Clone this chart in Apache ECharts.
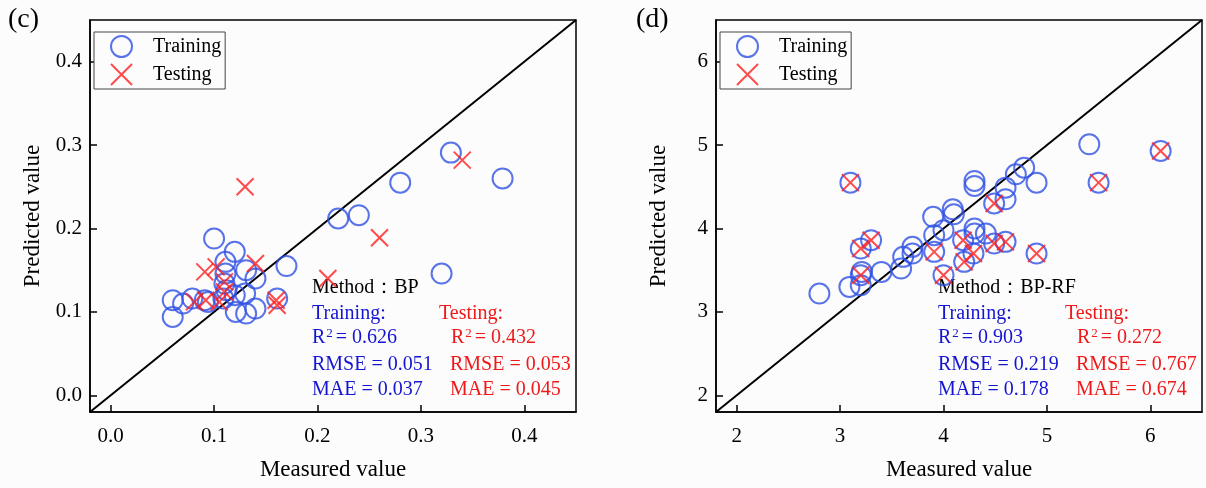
<!DOCTYPE html>
<html>
<head>
<meta charset="utf-8">
<script src="https://cdn.jsdelivr.net/npm/echarts@6/dist/echarts.min.js"></script>
<style>
  html, body { margin: 0; padding: 0; background: #fcfcfc; }
  #chart { width: 1206px; height: 488px; }
</style>
</head>
<body>
<div id="chart"></div>
<script>
// panel (c): BP
const trainC = [
  [0.100, 0.188], [0.120, 0.172], [0.111, 0.160], [0.131, 0.150], [0.111, 0.146],
  [0.140, 0.140], [0.110, 0.134], [0.170, 0.155], [0.060, 0.114], [0.070, 0.110],
  [0.079, 0.116], [0.091, 0.114], [0.094, 0.112], [0.060, 0.094], [0.120, 0.120],
  [0.130, 0.122], [0.121, 0.100], [0.131, 0.098], [0.140, 0.104], [0.161, 0.116],
  [0.109, 0.116], [0.112, 0.126], [0.220, 0.212], [0.240, 0.216], [0.280, 0.255],
  [0.320, 0.146], [0.329, 0.291], [0.379, 0.260]
];
const testC = [
  [0.130, 0.250], [0.091, 0.148], [0.102, 0.154], [0.140, 0.158], [0.110, 0.136],
  [0.110, 0.124], [0.081, 0.112], [0.092, 0.114], [0.105, 0.112], [0.160, 0.114],
  [0.161, 0.108], [0.210, 0.140], [0.260, 0.189], [0.340, 0.282]
];
const rangeC = [-0.02, 0.45];
const ticksC = [0, 0.1, 0.2, 0.3, 0.4];

// panel (d): BP-RF
const trainD = [
  [2.80, 3.22], [3.09, 3.30], [3.20, 3.32], [3.20, 3.44], [3.21, 3.48], [3.10, 4.55],
  [3.20, 3.76], [3.30, 3.86], [3.40, 3.48], [3.59, 3.52], [3.61, 3.66], [3.70, 3.70],
  [3.70, 3.78], [3.90, 4.14], [3.91, 3.92], [3.91, 3.72], [4.00, 3.98], [4.00, 3.44],
  [4.09, 4.23], [4.10, 4.17], [4.19, 3.86], [4.20, 3.60], [4.30, 4.00], [4.30, 3.94],
  [4.29, 3.70], [4.41, 3.94], [4.30, 4.57], [4.30, 4.51], [4.49, 4.30], [4.60, 4.35],
  [4.49, 3.82], [4.60, 3.84], [4.60, 4.49], [4.70, 4.65], [4.78, 4.73], [4.90, 4.55],
  [4.90, 3.70], [5.41, 5.01], [5.50, 4.55], [6.10, 4.93]
];
const testD = [
  [3.10, 4.55], [3.20, 3.44], [3.20, 3.76], [3.30, 3.86], [3.91, 3.72], [4.00, 3.44],
  [4.19, 3.86], [4.20, 3.60], [4.29, 3.70], [4.49, 4.30], [4.49, 3.82], [4.60, 3.84],
  [4.90, 3.70], [5.50, 4.55], [6.10, 4.93]
];
const rangeD = [1.8, 6.5];
const ticksD = [2, 3, 4, 5, 6];

const statsC = { method: "BP", train: ["0.626", "0.051", "0.037"], test: ["0.432", "0.053", "0.045"] };
const statsD = { method: "BP-RF", train: ["0.903", "0.219", "0.178"], test: ["0.272", "0.767", "0.674"] };

const FONT = "Liberation Serif";
const BLUE = "#2f50e4";
const RED = "#ff1e1e";
const TXT_BLUE = "#1414d2";
const TXT_RED = "#f01818";
const CROSS = "path://M0,0L10,10M10,0L0,10";

let chart = echarts.init(document.getElementById("chart"));

function axis(idx, range, ticks, name, isX, digits) {
  return {
    type: "value",
    gridIndex: idx,
    min: range[0],
    max: range[1],
    name: name,
    nameLocation: "middle",
    nameGap: 46,
    nameTextStyle: { fontFamily: FONT, fontSize: 23, color: "#000" },
    axisLine: { show: true, onZero: false, lineStyle: { color: "#000", width: 1.5 } },
    axisTick: { show: true, inside: true, length: 7, customValues: ticks, lineStyle: { color: "#000", width: 1.5 } },
    axisLabel: {
      customValues: ticks,
      fontFamily: FONT,
      fontSize: 21,
      color: "#000",
      margin: isX ? 14 : 8,
      formatter: (v) => v.toFixed(digits),
    },
    splitLine: { show: false },
  };
}

function legend(left) {
  return {
    data: ["Training", "Testing"],
    orient: "vertical",
    left: left,
    top: 32,
    itemWidth: 21,
    itemHeight: 21,
    itemGap: 5,
    padding: [3, 4, 3, 16],
    borderColor: "#444",
    borderWidth: 1,
    backgroundColor: "#fcfcfc",
    selectedMode: false,
    textStyle: { fontFamily: FONT, fontSize: 20, color: "#000", padding: [0, 0, 0, 16] },
  };
}

function series(idx, train, test, range) {
  return [
    {
      type: "line",
      xAxisIndex: idx,
      yAxisIndex: idx,
      data: [[range[0], range[0]], [range[1], range[1]]],
      symbol: "none",
      silent: true,
      lineStyle: { color: "#000", width: 2 },
      z: 1,
    },
    {
      name: "Training",
      type: "scatter",
      xAxisIndex: idx,
      yAxisIndex: idx,
      data: train,
      symbol: "circle",
      symbolSize: 20,
      itemStyle: { color: "rgba(0,0,0,0)", borderColor: BLUE, borderWidth: 2 },
      z: 2,
    },
    {
      name: "Testing",
      type: "scatter",
      xAxisIndex: idx,
      yAxisIndex: idx,
      data: test,
      symbol: CROSS,
      symbolSize: 17,
      itemStyle: { color: "rgba(0,0,0,0)", borderColor: RED, borderWidth: 2 },
      z: 3,
    },
  ];
}

function statText(x0, stats) {
  const lh = 25.5;
  const y0 = 278;
  const dx = 127;
  const base = { fontFamily: FONT, fontSize: 20 };
  const rich = (c) => ({
    n: { fontFamily: FONT, fontSize: 20, fill: c },
    s: { fontFamily: FONT, fontSize: 13, fill: c, verticalAlign: "bottom", padding: [0, 3, 9, 1] },
  });
  return [
    { type: "text", x: x0, y: y0, style: Object.assign({ text: "Method：" + stats.method, fill: "#000" }, base) },
    { type: "text", x: x0, y: y0 + lh, style: Object.assign({ text: "Training:", fill: TXT_BLUE }, base) },
    { type: "text", x: x0 + dx, y: y0 + lh, style: Object.assign({ text: "Testing:", fill: TXT_RED }, base) },
    { type: "text", x: x0, y: y0 + lh * 2 - 2, style: { text: "{n|R}{s|2}{n|= " + stats.train[0] + "}", rich: rich(TXT_BLUE) } },
    { type: "text", x: x0 + dx + 12, y: y0 + lh * 2 - 2, style: { text: "{n|R}{s|2}{n|= " + stats.test[0] + "}", rich: rich(TXT_RED) } },
    { type: "text", x: x0, y: y0 + lh * 3, style: Object.assign({ text: "RMSE = " + stats.train[1], fill: TXT_BLUE }, base) },
    { type: "text", x: x0 + dx + 11, y: y0 + lh * 3, style: Object.assign({ text: "RMSE = " + stats.test[1], fill: TXT_RED }, base) },
    { type: "text", x: x0, y: y0 + lh * 4, style: Object.assign({ text: "MAE = " + stats.train[2], fill: TXT_BLUE }, base) },
    { type: "text", x: x0 + dx + 11, y: y0 + lh * 4, style: Object.assign({ text: "MAE = " + stats.test[2], fill: TXT_RED }, base) },
  ];
}

chart.setOption({
  backgroundColor: "#fcfcfc",
  animation: false,
  grid: [
    { left: 90, right: 630, top: 20, bottom: 76, show: true, borderColor: "#000", borderWidth: 1.5, backgroundColor: "transparent" },
    { left: 716, right: 4, top: 20, bottom: 76, show: true, borderColor: "#000", borderWidth: 1.5, backgroundColor: "transparent" },
  ],
  xAxis: [
    axis(0, rangeC, ticksC, "Measured value", true, 1),
    axis(1, rangeD, ticksD, "Measured value", true, 0),
  ],
  yAxis: [
    axis(0, rangeC, ticksC, "Predicted value", false, 1),
    axis(1, rangeD, ticksD, "Predicted value", false, 0),
  ],
  legend: [legend(94), legend(720)],
  series: series(0, trainC, testC, rangeC).concat(series(1, trainD, testD, rangeD)),
  graphic: [
    { type: "text", x: 8, y: 6, style: { text: "(c)", fontFamily: FONT, fontSize: 28, fill: "#000" } },
    { type: "text", x: 636, y: 6, style: { text: "(d)", fontFamily: FONT, fontSize: 28, fill: "#000" } },
  ].concat(statText(312, statsC), statText(938, statsD)),
});
</script>
</body>
</html>
